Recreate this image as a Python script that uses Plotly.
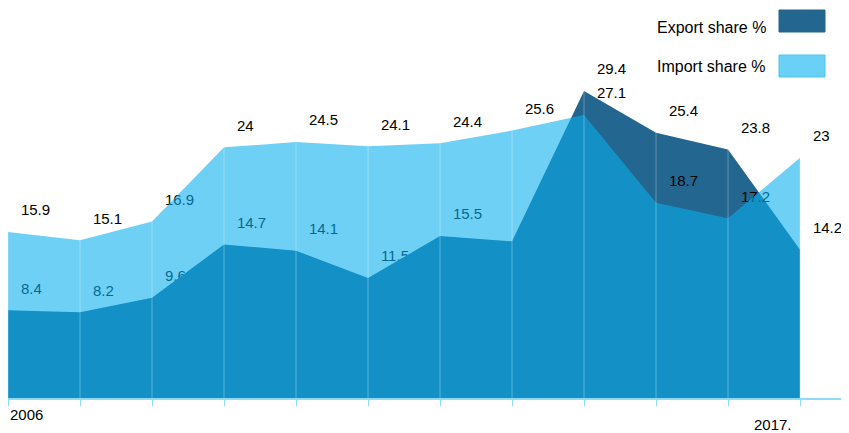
import plotly.graph_objects as go

years = [2006, 2007, 2008, 2009, 2010, 2011, 2012, 2013, 2014, 2015, 2016, 2017]
export_share = [8.4, 8.2, 9.6, 14.7, 14.1, 11.5, 15.5, 15.0, 29.4, 25.4, 23.8, 14.2]
import_share = [15.9, 15.1, 16.9, 24, 24.5, 24.1, 24.4, 25.6, 27.1, 18.7, 17.2, 23]
first_label = "2006"
last_label = "2017."
series_names = ["Export share %", "Import share %"]

# the page body has an 8px margin, so the figure is sized to fit the 849x433 window
OFF = 8
W, H = 849 - OFF, 433 - OFF
ML, MR, MT, MB = 0, 0, 22 - OFF, 35
PW, PH = W - ML - MR, H - MT - MB

DARK = "#23668f"
LIGHT_FILL = "rgba(8,175,238,0.59)"
LIGHT_SWATCH = "#6bd0f5"
FONT = "Liberation Sans, Arial, sans-serif"


def px(xp):
    return (xp - OFF - ML) / PW


def py(yp):
    return (OFF + MT + PH - yp) / PH


def label_trace(x, y):
    return go.Scatter(
        x=x, y=y, mode="markers+text",
        text=[f"{v:g}" for v in y],
        textposition="top right",
        textfont=dict(family=FONT, size=15, color="#000000"),
        marker=dict(size=19, color="rgba(0,0,0,0)"),
        hoverinfo="skip", showlegend=False, cliponaxis=False,
    )


fig = go.Figure()
# export labels (drawn beneath export area)
fig.add_trace(label_trace(years, export_share))
# export area
fig.add_trace(go.Scatter(
    x=years, y=export_share, mode="lines", fill="tozeroy",
    fillcolor=DARK, line=dict(width=0, color=DARK),
    name=series_names[0], showlegend=False,
))
# import labels
fig.add_trace(label_trace(years, import_share))
# import area (translucent, on top)
fig.add_trace(go.Scatter(
    x=years, y=import_share, mode="lines", fill="tozeroy",
    fillcolor=LIGHT_FILL, line=dict(width=0, color=LIGHT_FILL),
    name=series_names[1], showlegend=False,
))

shapes = []
# vertical grid lines drawn above the areas
for yr in years:
    shapes.append(dict(type="line", xref="x", yref="paper", x0=yr, x1=yr, y0=0, y1=1,
                       line=dict(color="rgba(255,255,255,0.3)", width=1), layer="above"))
# manual legend swatches (swatch right of text)
shapes.append(dict(type="rect", xref="paper", yref="paper",
                   x0=px(779), x1=px(825), y0=py(32), y1=py(10),
                   fillcolor=DARK, line=dict(color=DARK, width=1), layer="above"))
shapes.append(dict(type="rect", xref="paper", yref="paper",
                   x0=px(779), x1=px(825), y0=py(77), y1=py(55),
                   fillcolor=LIGHT_SWATCH, line=dict(color="#4cc4f0", width=1), layer="above"))

annotations = [
    dict(text=series_names[0], xref="paper", yref="paper", x=px(655), y=py(27),
         xanchor="left", yanchor="middle", showarrow=False,
         font=dict(family=FONT, size=16, color="#000000")),
    dict(text=series_names[1], xref="paper", yref="paper", x=px(655), y=py(66),
         xanchor="left", yanchor="middle", showarrow=False,
         font=dict(family=FONT, size=16, color="#000000")),
    dict(text=first_label, xref="x", yref="paper", x=years[0], y=0,
         xanchor="left", yanchor="top", yshift=-6, showarrow=False,
         font=dict(family=FONT, size=15, color="#000000")),
    dict(text=last_label, xref="x", yref="paper", x=years[-1], y=0,
         xanchor="right", yanchor="top", xshift=-6, yshift=-16, showarrow=False,
         font=dict(family=FONT, size=15, color="#000000")),
]

fig.update_layout(
    width=W, height=H,
    margin=dict(l=ML, r=MR, t=MT, b=MB, pad=0),
    paper_bgcolor="white", plot_bgcolor="white",
    showlegend=False,
    shapes=shapes, annotations=annotations,
    xaxis=dict(range=[years[0], years[-1] + 0.68], showgrid=False, zeroline=False,
               showline=True, linecolor="#8edbf5", linewidth=2,
               ticks="outside", ticklen=6, tickwidth=1, tickcolor="#8edbf5",
               tickvals=years, showticklabels=False, fixedrange=True),
    yaxis=dict(range=[0, 36], showgrid=False, zeroline=False,
               showline=True, linecolor="#5ccaf3", linewidth=1.5,
               showticklabels=False, ticks="", fixedrange=True),
    hovermode=False,
)

fig.write_html("out.html")
